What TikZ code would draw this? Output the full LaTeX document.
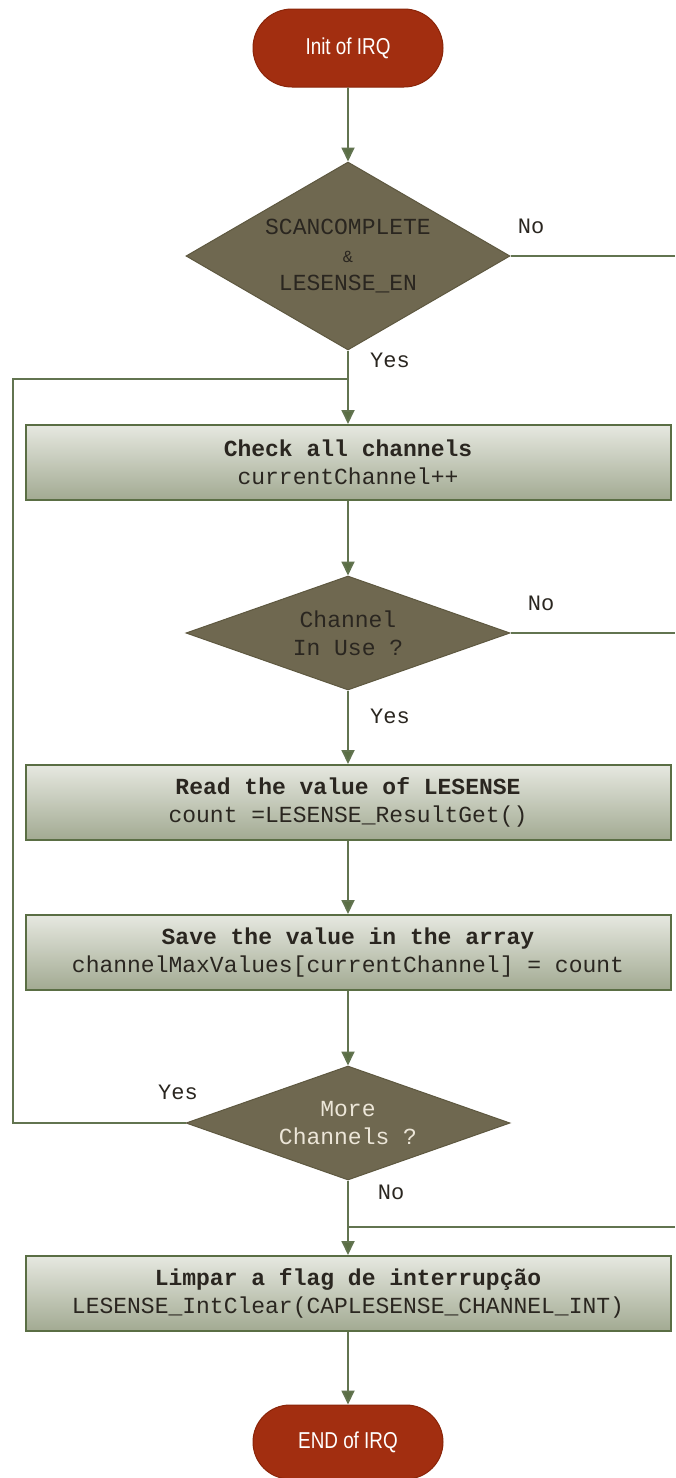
\documentclass[tikz,border=0pt]{standalone}
\usepackage{fontspec}
\setmonofont{Liberation Mono}
\newfontfamily\termfont[FakeStretch=0.82]{Liberation Sans}
\usetikzlibrary{shapes.geometric,shapes.misc,arrows.meta}
\definecolor{termred}{HTML}{A22E10}
\definecolor{termedge}{HTML}{8A2408}
\definecolor{decfill}{HTML}{6F6850}
\definecolor{decedge}{HTML}{5E5840}
\definecolor{flowgreen}{HTML}{627450}
\definecolor{boxedge}{HTML}{5A6E44}
\definecolor{boxtop}{HTML}{E6E8E0}
\definecolor{boxbot}{HTML}{A2AA92}
\definecolor{darktext}{HTML}{2A2620}
\definecolor{lighttext}{HTML}{ECE6D8}
\tikzset{
  terminal/.style={rounded rectangle, fill=termred, draw=termedge, line width=1pt,
    minimum width=190pt, minimum height=78pt, inner sep=0pt, text=white,
    font=\termfont\fontsize{23}{27}\selectfont},
  decision/.style={diamond, fill=decfill, draw=decedge, line width=1pt, inner sep=0pt,
    minimum width=324pt, align=center, text=darktext,
    font=\ttfamily\fontsize{23}{28}\selectfont},
  stepbox/.style={rectangle, draw=boxedge, line width=2pt, top color=boxtop,
    bottom color=boxbot, minimum width=645pt, minimum height=75pt, align=center,
    text=darktext, font=\ttfamily\fontsize{23}{28}\selectfont},
  flow/.style={draw=flowgreen, line width=1.8pt,
    -{Triangle[width=13pt,length=14pt,fill=boxedge]}},
  plain/.style={draw=flowgreen, line width=1.8pt},
  lbl/.style={text=darktext, font=\ttfamily\fontsize{22}{26}\selectfont, inner sep=0pt},
}
\begin{document}
\begin{tikzpicture}[x=1pt,y=-1pt]
\useasboundingbox[fill=white] (0,0) rectangle (675,1478);

% nodes
\node[terminal] (init) at (348,48) {Init of IRQ};
\node[decision, minimum height=188pt, shape aspect=1.72] (scan) at (348,256)
  {SCANCOMPLETE\\{\fontsize{17}{28}\selectfont\&}\\LESENSE\_EN};
\node[stepbox] (check) at (348,462.5)
  {\textbf{Check all channels}\\currentChannel++};
\node[decision, minimum height=114pt, shape aspect=2.84] (inuse) at (348,633)
  {Channel\\In Use ?};
\node[stepbox] (read) at (348,802.5)
  {\textbf{Read the value of LESENSE}\\count =LESENSE\_ResultGet()};
\node[stepbox] (save) at (348,952.5)
  {\textbf{Save the value in the array}\\channelMaxValues[currentChannel] = count};
\node[decision, minimum height=114pt, shape aspect=2.84, text=lighttext] (more) at (348,1123)
  {More\\Channels ?};
\node[stepbox] (clear) at (348,1293.5)
  {\textbf{Limpar a flag de interrupção}\\LESENSE\_IntClear(CAPLESENSE\_CHANNEL\_INT)};
\node[terminal, minimum height=74pt] (endirq) at (348,1442) {END of IRQ};

% branch labels
\node[lbl] (noscan) at (531,226) {No};
\node[lbl] (yesscan) at (390,360) {Yes};
\node[lbl] (nouse) at (541,603) {No};
\node[lbl] (yesuse) at (390,716) {Yes};
\node[lbl] (yesmore) at (178,1092) {Yes};
\node[lbl] (nomore) at (391,1192) {No};

% free ends and bends
\coordinate (scanout) at (675,256);
\coordinate (useout) at (675,633);
\coordinate (loopcorner) at (13,379);
\coordinate (loopjoin) at (348,379);
\coordinate (rejoinin) at (675,1227);
\coordinate (rejoin) at (348,1227);

% connectors
\draw[flow] (init) -- (scan);
\draw[flow] (scan) -- (check);
\draw[plain] (scan.east) -- (scanout);
\draw[plain] (more.west) -| (loopcorner) -- (loopjoin);
\draw[flow] (check) -- (inuse);
\draw[plain] (inuse.east) -- (useout);
\draw[flow] (inuse) -- (read);
\draw[flow] (read) -- (save);
\draw[flow] (save) -- (more);
\draw[flow] (more) -- (clear);
\draw[plain] (rejoinin) -- (rejoin);
\draw[flow] (clear) -- (endirq);
\end{tikzpicture}
\end{document}
